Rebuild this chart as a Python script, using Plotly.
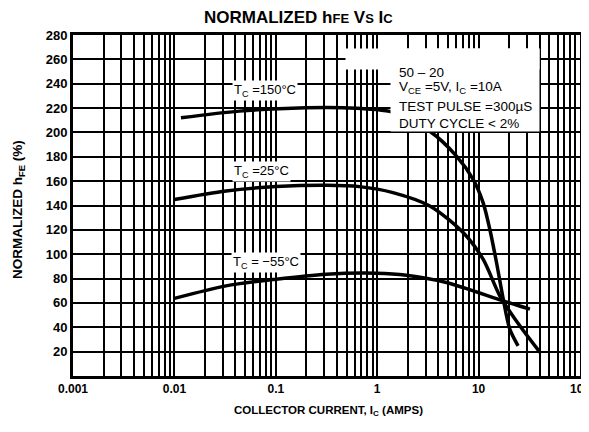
import plotly.graph_objects as go

# ---- data ----
t150_x = [0.0116, 0.0437, 0.199, 0.455, 1.42, 3.30, 6.05, 8.83, 11.07, 12.9, 15.0, 17.5, 20.3, 24.5]
t150_y = [212, 217.5, 220.2, 220.2, 216.6, 201, 180.6, 161.5, 142.4, 120.5, 93.4, 63.1, 38.5, 24.8]

t25_x = [0.01, 0.0323, 0.1007, 0.314, 0.67, 1.43, 3.30, 7.03, 11.07, 16.2, 25.5, 40.3]
t25_y = [145, 152, 155.5, 156.6, 155.5, 150.6, 139.6, 117.8, 95.9, 65.8, 41.2, 19.4]

tm55_x = [0.01, 0.0323, 0.1007, 0.314, 0.98, 1.94, 4.82, 17.5, 32.1]
tm55_y = [63.7, 74.0, 79.5, 83.6, 84.4, 82.8, 76.8, 61.7, 54.9]

decades = [0.001, 0.01, 0.1, 1, 10, 100]
decade_labels = ["0.001", "0.01", "0.1", "1", "10", "100"]
y_ticks = list(range(20, 281, 20))

# ---- axis ticks (log grid 1..9 per decade) ----
x_tickvals, x_ticktext = [], []
for d, lab in zip(decades[:-1], decade_labels[:-1]):
    for m in range(1, 10):
        x_tickvals.append(m * d)
        x_ticktext.append(lab if m == 1 else "")
x_tickvals.append(decades[-1])
x_ticktext.append(decade_labels[-1])

FONT = "Liberation Sans, Arial, sans-serif"
LW = 3.5

fig = go.Figure()
for xs, ys in [(t150_x, t150_y), (t25_x, t25_y), (tm55_x, tm55_y)]:
    fig.add_trace(go.Scatter(x=xs, y=ys, mode="lines",
                             line=dict(color="black", width=LW, shape="spline", smoothing=0.8),
                             showlegend=False, hoverinfo="skip"))

# page offset of the plot div (browser body margin)
OFF = 8
W, H = 589, 432
# plot frame (figure pixels)
L, R, T, B = 73 - OFF, 580 - OFF, 35 - OFF, 376 - OFF

def px(x):
    return (x - OFF - L) / (R - L)

def py(y):
    return (B - (y - OFF)) / (B - T)

annotations = []

# white blank boxes hiding the grid behind the condition text
def blank(x0, x1, y0, y1):
    annotations.append(dict(text=" ", x=px(x0), y=py(y0), xref="paper", yref="paper",
                            xanchor="left", yanchor="top", showarrow=False,
                            width=x1 - x0, height=y1 - y0, bgcolor="white", borderpad=0,
                            font=dict(size=1)))

blank(345, 538, 48, 68)
blank(390, 538, 48, 130)

def ann(text, x, y, size=11, xanchor="center", bg="white", weight="normal"):
    annotations.append(dict(text=text, x=px(x), y=py(y), xref="paper", yref="paper",
                            showarrow=False, xanchor=xanchor, yanchor="middle",
                            font=dict(family=FONT, size=size, color="black", weight=weight),
                            bgcolor=bg, borderpad=1))

# curve labels
ann("T<sub>C</sub> =150°C", 265, 91, size=13)
ann("T<sub>C</sub> =25°C", 261, 171, size=13)
ann("T<sub>C</sub> = −55°C", 266, 262, size=13)

# condition box
ann("50 – 20", 397, 72, size=13.5, xanchor="left", bg=None)
ann("V<sub>CE</sub> =5V, I<sub>C</sub> =10A", 397, 87, size=13.5, xanchor="left", bg=None)
ann("TEST PULSE =300µS", 397, 106, size=13.5, xanchor="left", bg=None)
ann("DUTY CYCLE < 2%", 397, 123, size=13.5, xanchor="left", bg=None)

# titles
ann("NORMALIZED h<span style='font-size:13px'>FE</span> V<span style='font-size:13px'>S</span> "
    "I<span style='font-size:13px'>C</span>", 298, 17, size=17, bg=None, weight="bold")
ann("COLLECTOR CURRENT, I<sub>C</sub> (AMPS)", 328, 411, size=11.5, bg=None, weight="bold")
annotations.append(dict(text="NORMALIZED h<sub>FE</sub> (%)", x=px(18), y=py(210),
                        xref="paper", yref="paper", showarrow=False, textangle=-90,
                        xanchor="center", yanchor="middle",
                        font=dict(family=FONT, size=13.5, color="black", weight="bold")))

fig.update_layout(
    width=W, height=H,
    margin=dict(l=L, r=W - R, t=T, b=H - B, autoexpand=False),
    paper_bgcolor="white", plot_bgcolor="white",
    annotations=annotations,
    xaxis=dict(type="log", range=[-3, 2], tickvals=x_tickvals, ticktext=x_ticktext,
               showgrid=True, gridcolor="black", gridwidth=1.5, automargin=False,
               showline=True, linecolor="black", linewidth=3, mirror=True,
               ticks="", tickfont=dict(family=FONT, size=12, color="black", weight="bold"),
               zeroline=False),
    yaxis=dict(range=[0, 280], tickvals=y_ticks, showgrid=True, gridcolor="black", gridwidth=1.5,
               automargin=False,
               showline=True, linecolor="black", linewidth=3, mirror=True,
               ticks="", tickfont=dict(family=FONT, size=13, color="black", weight="bold"),
               zeroline=False),
)

fig.write_html("out.html")
